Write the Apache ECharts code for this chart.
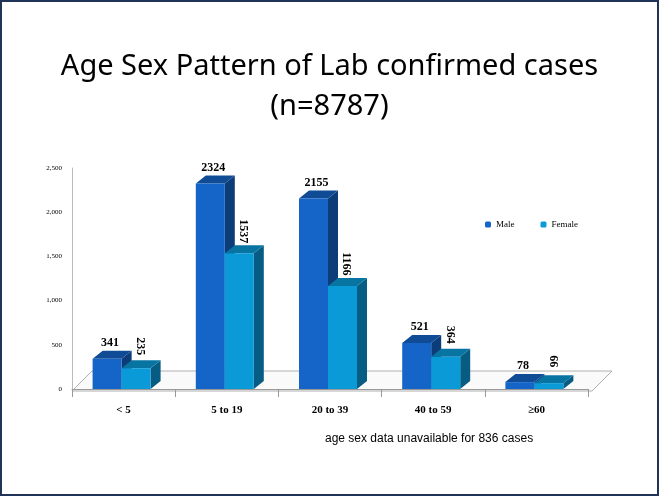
<!DOCTYPE html>
<html><head><meta charset="utf-8">
<script src="https://cdn.jsdelivr.net/npm/echarts@6/dist/echarts.min.js"></script>
<style>html,body{margin:0;padding:0;background:#fff}
#main{width:655px;height:492px;border:2px solid #1f3457}</style>
</head><body><div id="main"></div>
<script>
var categories = ['< 5', '5 to 19', '20 to 39', '40 to 59', '\u226560'];
var maleValues = [341, 2324, 2155, 521, 78];
var femaleValues = [235, 1537, 1166, 364, 66];
var yTicks = [0, 500, 1000, 1500, 2000, 2500];

var myChart = echarts.init(document.getElementById('main'));

function shade(c, f) {
    var n = parseInt(c.slice(1), 16), r = (n >> 16) & 255, g = (n >> 8) & 255, b = n & 255;
    return 'rgb(' + Math.round(r * f) + ',' + Math.round(g * f) + ',' + Math.round(b * f) + ')';
}

function prism(offset, color, rotateLabel) {
    return function (params, api) {
        var cat = api.value(0), val = api.value(1);
        var base = api.coord([cat, 0]), top = api.coord([cat, val]);
        var w = 29, dx = 10, dy = -8;
        var x0 = base[0] + offset, x1 = x0 + w, yb = base[1], yt = top[1];
        var label = rotateLabel ? {
            type: 'text', rotation: -Math.PI / 2, x: x0 + w / 2 + 4, y: yt - 22,
            style: {text: String(val), font: 'bold 12px "Liberation Serif", serif', fill: '#000', align: 'center', verticalAlign: 'middle'}
        } : {
            type: 'text', x: x0 + w / 2 + 3, y: yt - 16,
            style: {text: String(val), font: 'bold 12px "Liberation Serif", serif', fill: '#000', align: 'center', verticalAlign: 'middle'}
        };
        return {type: 'group', children: [
            {type: 'polygon', shape: {points: [[x1, yb], [x1 + dx, yb + dy], [x1 + dx, yt + dy], [x1, yt]]}, style: {fill: shade(color, 0.6)}},
            {type: 'polygon', shape: {points: [[x0, yt], [x0 + dx, yt + dy], [x1 + dx, yt + dy], [x1, yt]]}, style: {fill: shade(color, 0.75)}},
            {type: 'rect', shape: {x: x0, y: yt, width: w, height: yb - yt}, style: {fill: color}},
            label
        ]};
    };
}

var option = {
    animation: false,
    title: {
        text: 'Age Sex Pattern of Lab confirmed cases\n(n=8787)',
        left: 'center', top: 40,
        textStyle: {fontFamily: '"Noto Sans", sans-serif', fontSize: 29, fontWeight: 'normal', color: '#000', lineHeight: 40}
    },
    graphic: [
        {type: 'polygon', shape: {points: [[70, 389], [590, 389], [610, 369], [90, 369]]}, style: {fill: '#fafafa', stroke: '#b0b0b0', lineWidth: 1}, z: 0},
        {type: 'text', left: 323, top: 431, style: {text: 'age sex data unavailable for 836 cases', font: '12px "Liberation Sans", sans-serif', fill: '#000'}}
    ],
    legend: {
        data: ['Male', 'Female'], left: 478, top: 213, itemWidth: 6, itemHeight: 6, itemGap: 26,
        textStyle: {fontFamily: '"Liberation Serif", serif', fontSize: 9, color: '#000'}
    },
    grid: {left: 70, right: 69, top: 166, bottom: 105},
    xAxis: {
        type: 'category', data: categories,
        axisLine: {lineStyle: {color: '#999'}},
        axisTick: {show: true, length: 8, lineStyle: {color: '#999'}},
        axisLabel: {margin: 16, fontFamily: '"Liberation Serif", serif', fontWeight: 'bold', fontSize: 11, color: '#000'}
    },
    yAxis: {
        type: 'value', min: yTicks[0], max: yTicks[yTicks.length - 1], interval: 500,
        axisLine: {show: true, lineStyle: {color: '#bbb'}},
        splitLine: {show: false},
        axisLabel: {fontFamily: '"Liberation Serif", serif', fontSize: 7, color: '#000', margin: 10}
    },
    series: [
        {name: 'Male', type: 'custom', itemStyle: {color: '#1565c8'}, renderItem: prism(-31, '#1565c8', false),
            data: maleValues.map(function (v, i) { return [i, v]; }), z: 3},
        {name: 'Female', type: 'custom', itemStyle: {color: '#0a9ad8'}, renderItem: prism(-2, '#0a9ad8', true),
            data: femaleValues.map(function (v, i) { return [i, v]; }), z: 4}
    ]
};
myChart.setOption(option);
</script></body></html>
